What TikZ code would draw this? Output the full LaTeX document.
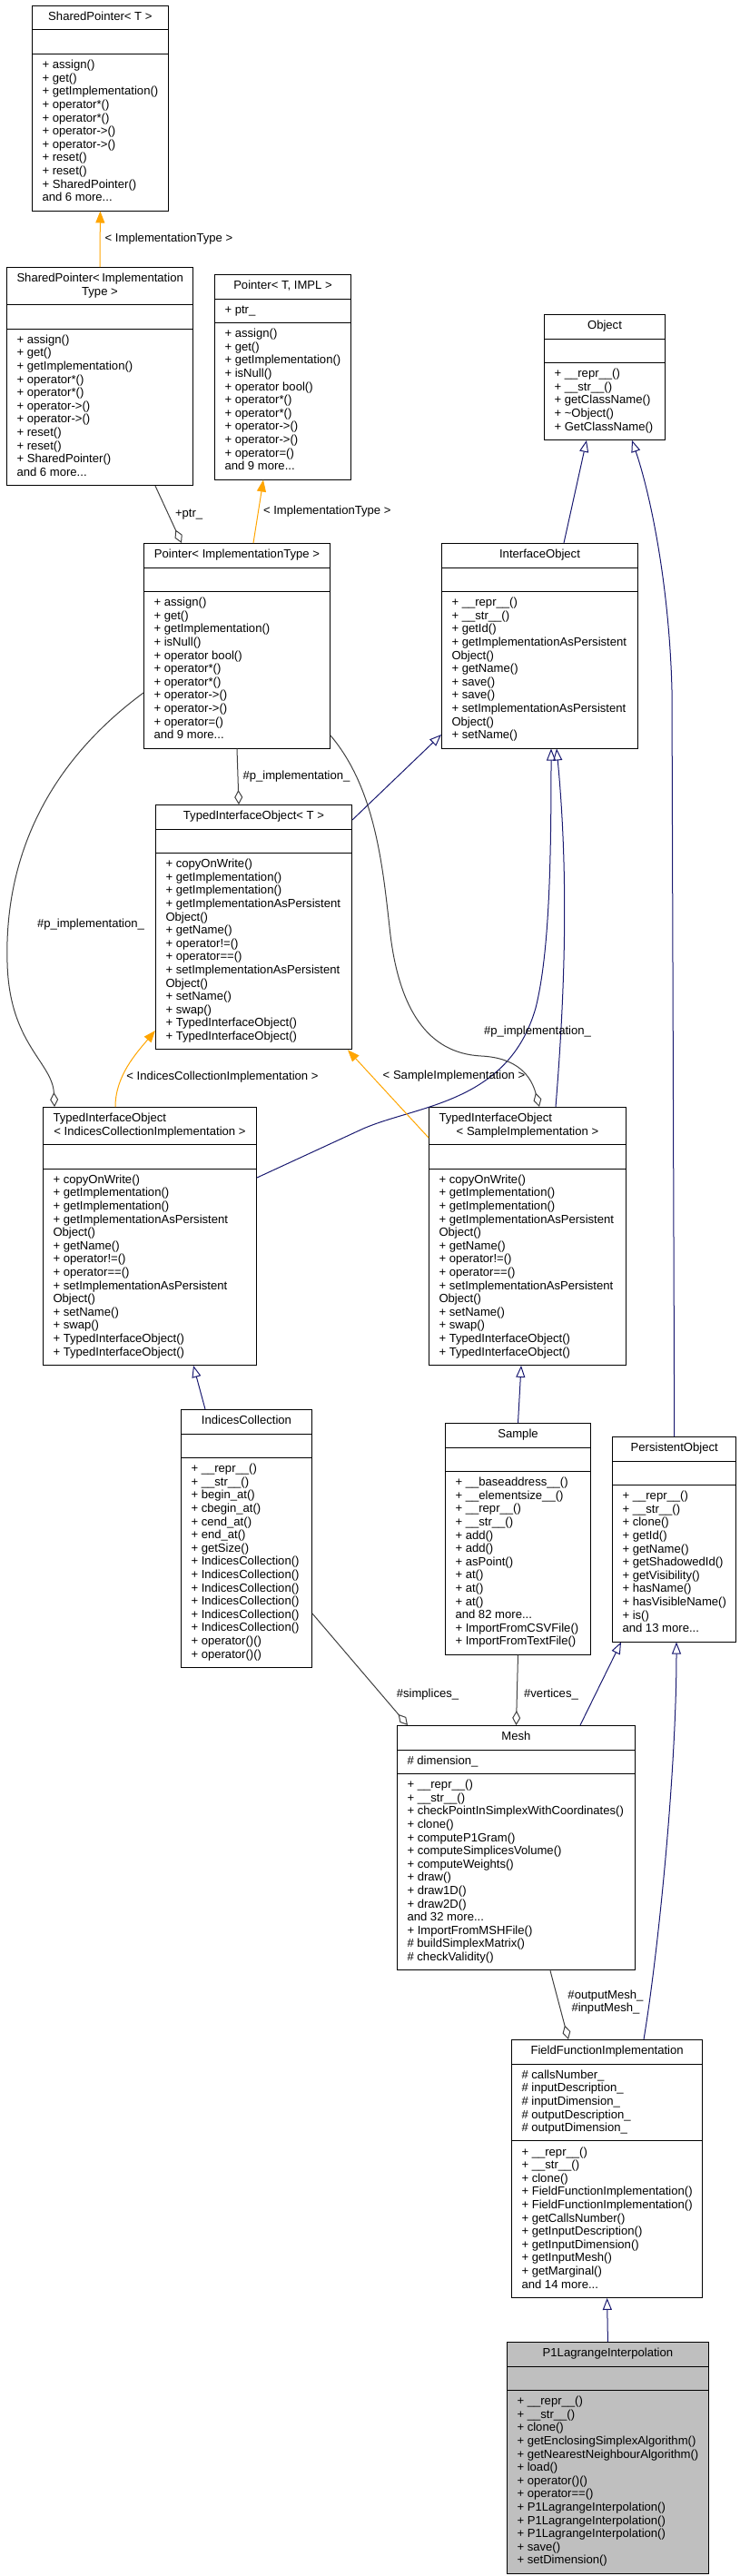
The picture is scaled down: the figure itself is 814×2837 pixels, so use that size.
\documentclass[tikz,border=0pt]{standalone}
\usepackage{fontspec}
\setmainfont{Liberation Sans}
\usepackage{tikz}
\usetikzlibrary{shapes.multipart,arrows.meta}

\definecolor{midnightblue}{HTML}{191970}
\definecolor{doxorange}{HTML}{FFA500}
\definecolor{grey25}{HTML}{404040}
\definecolor{grey75}{HTML}{BFBFBF}

\newcommand{\clsfont}{\fontsize{13.1}{14.6}\selectfont}
\newcommand{\clstitle}[2]{\parbox[t]{#1}{\centering\hyphenpenalty=10000\exhyphenpenalty=10000\hbadness=10000\hfuzz=5pt\strut#2\strut}}

\tikzset{
  cls/.style={rectangle split, rectangle split parts=3, draw=black, line width=1pt,
    fill=white, inner xsep=11pt, inner ysep=5.45pt, align=left,
    rectangle split part align={center,left,left}, anchor=north west, font=\clsfont},
  inh/.style={draw=midnightblue, line width=1pt, -{Triangle[open,length=13pt,width=10pt]}},
  tmpl/.style={draw=doxorange, line width=1pt, -{Triangle[length=13pt,width=10pt]}},
  usage/.style={draw=grey25, line width=1pt, -{Diamond[open,length=16pt,width=9pt]}},
  lbl/.style={font=\fontsize{13.1}{14}\selectfont, inner sep=0pt, align=center}
}

\begin{document}
\begin{tikzpicture}[x=1pt,y=-1pt]
  \useasboundingbox (0,0) rectangle (814,2837);

  \node[cls] (sp) at (35,6) {\clstitle{127pt}{SharedPointer<~T~>}
    \nodepart{two}\strut
    \nodepart{three}\strut+ assign()\\+ get()\\+ getImplementation()\\+ operator*()\\+ operator*()\\+ operator->()\\+ operator->()\\+ reset()\\+ reset()\\+ SharedPointer()\\and 6 more...\strut};
  \node[cls] (spimpl) at (7,294) {\clstitle{183pt}{SharedPointer<~Implementation\\Type~>}
    \nodepart{two}\strut
    \nodepart{three}\strut+ assign()\\+ get()\\+ getImplementation()\\+ operator*()\\+ operator*()\\+ operator->()\\+ operator->()\\+ reset()\\+ reset()\\+ SharedPointer()\\and 6 more...\strut};
  \node[cls] (ptr) at (236,302) {\clstitle{128pt}{Pointer<~T,~IMPL~>}
    \nodepart{two}\strut+ ptr\_\strut
    \nodepart{three}\strut+ assign()\\+ get()\\+ getImplementation()\\+ isNull()\\+ operator bool()\\+ operator*()\\+ operator*()\\+ operator->()\\+ operator->()\\+ operator=()\\and 9 more...\strut};
  \node[cls] (obj) at (599,346) {\clstitle{111pt}{Object}
    \nodepart{two}\strut
    \nodepart{three}\strut+ \_\_repr\_\_()\\+ \_\_str\_\_()\\+ getClassName()\\+ \textasciitilde Object()\\+ GetClassName()\strut};
  \node[cls] (ptrimpl) at (158,598) {\clstitle{183pt}{Pointer<~ImplementationType~>}
    \nodepart{two}\strut
    \nodepart{three}\strut+ assign()\\+ get()\\+ getImplementation()\\+ isNull()\\+ operator bool()\\+ operator*()\\+ operator*()\\+ operator->()\\+ operator->()\\+ operator=()\\and 9 more...\strut};
  \node[cls] (iobj) at (486,598) {\clstitle{194pt}{InterfaceObject}
    \nodepart{two}\strut
    \nodepart{three}\strut+ \_\_repr\_\_()\\+ \_\_str\_\_()\\+ getId()\\+ getImplementationAsPersistent\\Object()\\+ getName()\\+ save()\\+ save()\\+ setImplementationAsPersistent\\Object()\\+ setName()\strut};
  \node[cls] (tiot) at (171,886) {\clstitle{194pt}{TypedInterfaceObject<~T~>}
    \nodepart{two}\strut
    \nodepart{three}\strut+ copyOnWrite()\\+ getImplementation()\\+ getImplementation()\\+ getImplementationAsPersistent\\Object()\\+ getName()\\+ operator!=()\\+ operator==()\\+ setImplementationAsPersistent\\Object()\\+ setName()\\+ swap()\\+ TypedInterfaceObject()\\+ TypedInterfaceObject()\strut};
  \node[cls] (tioidx) at (47,1219) {\clstitle{213pt}{\makebox[\linewidth][l]{TypedInterfaceObject}\\<~IndicesCollectionImplementation~>}
    \nodepart{two}\strut
    \nodepart{three}\strut+ copyOnWrite()\\+ getImplementation()\\+ getImplementation()\\+ getImplementationAsPersistent\\Object()\\+ getName()\\+ operator!=()\\+ operator==()\\+ setImplementationAsPersistent\\Object()\\+ setName()\\+ swap()\\+ TypedInterfaceObject()\\+ TypedInterfaceObject()\strut};
  \node[cls] (tiosmp) at (472,1219) {\clstitle{195pt}{\makebox[\linewidth][l]{TypedInterfaceObject}\\<~SampleImplementation~>}
    \nodepart{two}\strut
    \nodepart{three}\strut+ copyOnWrite()\\+ getImplementation()\\+ getImplementation()\\+ getImplementationAsPersistent\\Object()\\+ getName()\\+ operator!=()\\+ operator==()\\+ setImplementationAsPersistent\\Object()\\+ setName()\\+ swap()\\+ TypedInterfaceObject()\\+ TypedInterfaceObject()\strut};
  \node[cls] (idx) at (199,1552) {\clstitle{122pt}{IndicesCollection}
    \nodepart{two}\strut
    \nodepart{three}\strut+ \_\_repr\_\_()\\+ \_\_str\_\_()\\+ begin\_at()\\+ cbegin\_at()\\+ cend\_at()\\+ end\_at()\\+ getSize()\\+ IndicesCollection()\\+ IndicesCollection()\\+ IndicesCollection()\\+ IndicesCollection()\\+ IndicesCollection()\\+ IndicesCollection()\\+ operator()()\\+ operator()()\strut};
  \node[cls] (smp) at (490,1567) {\clstitle{138pt}{Sample}
    \nodepart{two}\strut
    \nodepart{three}\strut+ \_\_baseaddress\_\_()\\+ \_\_elementsize\_\_()\\+ \_\_repr\_\_()\\+ \_\_str\_\_()\\+ add()\\+ add()\\+ asPoint()\\+ at()\\+ at()\\+ at()\\and 82 more...\\+ ImportFromCSVFile()\\+ ImportFromTextFile()\strut};
  \node[cls] (pobj) at (674,1582) {\clstitle{114pt}{PersistentObject}
    \nodepart{two}\strut
    \nodepart{three}\strut+ \_\_repr\_\_()\\+ \_\_str\_\_()\\+ clone()\\+ getId()\\+ getName()\\+ getShadowedId()\\+ getVisibility()\\+ hasName()\\+ hasVisibleName()\\+ is()\\and 13 more...\strut};
  \node[cls] (mesh) at (437,1900) {\clstitle{240pt}{Mesh}
    \nodepart{two}\strut\# dimension\_\strut
    \nodepart{three}\strut+ \_\_repr\_\_()\\+ \_\_str\_\_()\\+ checkPointInSimplexWithCoordinates()\\+ clone()\\+ computeP1Gram()\\+ computeSimplicesVolume()\\+ computeWeights()\\+ draw()\\+ draw1D()\\+ draw2D()\\and 32 more...\\+ ImportFromMSHFile()\\\# buildSimplexMatrix()\\\# checkValidity()\strut};
  \node[cls] (ffi) at (563,2246) {\clstitle{188pt}{FieldFunctionImplementation}
    \nodepart{two}\strut\# callsNumber\_\\\# inputDescription\_\\\# inputDimension\_\\\# outputDescription\_\\\# outputDimension\_\strut
    \nodepart{three}\strut+ \_\_repr\_\_()\\+ \_\_str\_\_()\\+ clone()\\+ FieldFunctionImplementation()\\+ FieldFunctionImplementation()\\+ getCallsNumber()\\+ getInputDescription()\\+ getInputDimension()\\+ getInputMesh()\\+ getMarginal()\\and 14 more...\strut};
  \node[cls, fill=grey75] (p1) at (558,2579) {\clstitle{199pt}{P1LagrangeInterpolation}
    \nodepart{two}\strut
    \nodepart{three}\strut+ \_\_repr\_\_()\\+ \_\_str\_\_()\\+ clone()\\+ getEnclosingSimplexAlgorithm()\\+ getNearestNeighbourAlgorithm()\\+ load()\\+ operator()()\\+ operator==()\\+ P1LagrangeInterpolation()\\+ P1LagrangeInterpolation()\\+ P1LagrangeInterpolation()\\+ save()\\+ setDimension()\strut};

  \draw[tmpl] (spimpl.north) -- node[lbl, right=5pt] {< ImplementationType >} (sp.south);
  \draw[usage] (spimpl.south -| 171,0) -- node[lbl, right=7pt] {+ptr\_} (ptrimpl.north -| 200,0);
  \draw[tmpl] (ptrimpl.north -| 279,0) -- node[lbl, right=5pt] {< ImplementationType >} (ptr.south -| 290,0);
  \draw[inh] (iobj.north -| 621,0) -- (obj.south -| 646,0);
  \draw[inh] (pobj.north) -- (740,760) .. controls (737,640) and (715,540) .. (obj.south -| 696,0);
  \draw[usage] (ptrimpl.south) -- node[lbl, right=5pt] {\#p\_implementation\_} (tiot.north -| 263,0);
  \draw[inh] (tiot.east |- 0,903) -- (iobj.west |- 0,809);
  \draw[inh] (tiosmp.north -| 612,0) .. controls (620,1120) and (628,980) .. (iobj.south -| 613,0);
  \draw[inh] (tioidx.east |- 0,1297) -- (400,1243) .. controls (460,1217) and (560,1215) .. (590,1110)
    .. controls (605,1050) and (607,950) .. (iobj.south -| 607,0);
  \draw[usage] (ptrimpl.west |- 0,763) .. controls (40,850) and (5,960) .. (8,1060)
    .. controls (10,1150) and (58,1170) .. (tioidx.north -| 60,0);
  \node[lbl] (lblidx) at (100,1018) {\#p\_implementation\_};
  \draw[usage] (ptrimpl.east |- 0,810) .. controls (415,870) and (422,960) .. (430,1030)
    .. controls (440,1110) and (470,1160) .. (530,1163) .. controls (570,1165) and (585,1185) .. (tiosmp.north -| 594,0);
  \node[lbl] (lblsmp) at (592,1136) {\#p\_implementation\_};
  \draw[tmpl] (tioidx.north -| 127,0) .. controls (127,1185) and (150,1160) .. (tiot.west |- 0,1135);
  \node[lbl] (lbltidx) at (245,1186) {< IndicesCollectionImplementation >};
  \draw[tmpl] (tiosmp.west |- 0,1253) -- (tiot.south -| 383,0);
  \node[lbl] (lbltsmp) at (500,1185) {< SampleImplementation >};
  \draw[inh] (idx.north -| 226,0) -- (tioidx.south -| 213,0);
  \draw[inh] (smp.north) -- (tiosmp.south -| 574,0);
  \draw[usage] (idx.east |- 0,1777) -- (mesh.north -| 449,0);
  \node[lbl] (lblsimp) at (471,1866) {\#simplices\_};
  \draw[usage] (smp.south) -- (mesh.north);
  \node[lbl] (lblvert) at (607,1866) {\#vertices\_};
  \draw[inh] (mesh.north -| 639,0) -- (pobj.south -| 684,0);
  \draw[inh] (ffi.north -| 709,0) .. controls (725,2150) and (745,1950) .. (pobj.south -| 745,0);
  \draw[usage] (mesh.south -| 606,0) -- (ffi.north -| 626,0);
  \node[lbl] (lblmesh) at (667,2205) {\#outputMesh\_\\\#inputMesh\_};
  \draw[inh] (p1.north) -- (ffi.south);
\end{tikzpicture}
\end{document}
